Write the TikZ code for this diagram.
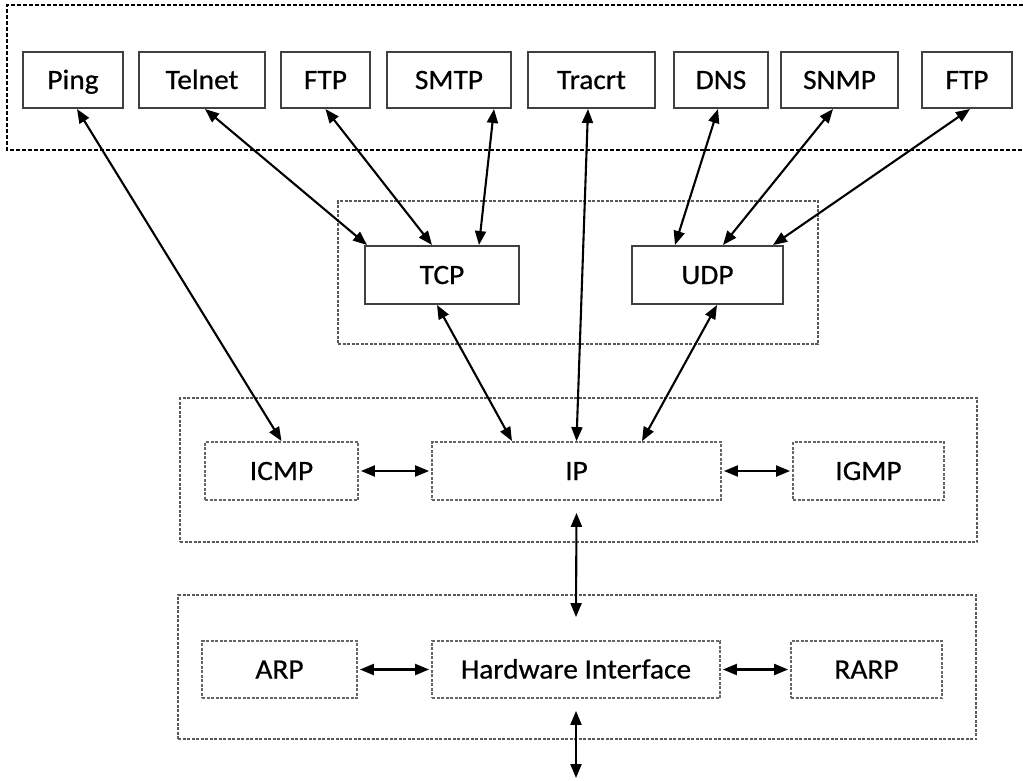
\documentclass[tikz,border=0pt]{standalone}
\usepackage{fontspec}
\setmainfont[FakeBold=0.6,FakeStretch=1.05]{Carlito}
\usetikzlibrary{arrows.meta}
\begin{document}
\begin{tikzpicture}[x=1pt,y=-1pt,
  lbl/.style={font=\fontsize{28}{32}\selectfont, text=black, text height=18pt, text depth=0pt},
  solidbox/.style={lbl, draw=black!75, line width=2pt, fill=white, inner sep=0pt, minimum height=56pt},
  dbox/.style={lbl, draw=black!60, dash pattern=on 3pt off 1.5pt, line width=1.8pt, inner sep=0pt, minimum height=58pt},
  groupbox/.style={draw=black!65, dash pattern=on 3pt off 1.5pt, line width=1.6pt, inner sep=0pt},
  topgroup/.style={draw=black, dash pattern=on 4pt off 2pt, line width=1.4pt},
  arr/.style={{Triangle[length=14pt,width=11pt]}-{Triangle[length=14pt,width=11pt]}, line width=2.1pt, black}
]
\useasboundingbox (0,0) rectangle (1023,780);

% group frames
\draw[topgroup] (1023,5) -- (7,5) -- (7,150) -- (1023,150);
\node[groupbox, minimum width=480pt, minimum height=143pt] (transport) at (578,272.5) {};
\node[groupbox, minimum width=797pt, minimum height=144pt] (iplayer) at (578.5,470) {};
\node[groupbox, minimum width=798pt, minimum height=144pt] (linklayer) at (577,667) {};

% application boxes
\node[solidbox, minimum width=100pt] (ping) at (73,80) {Ping};
\node[solidbox, minimum width=126pt] (telnet) at (202,80) {Telnet};
\node[solidbox, minimum width=89pt] (ftp) at (325.5,80) {FTP};
\node[solidbox, minimum width=124pt] (smtp) at (449,80) {SMTP};
\node[solidbox, minimum width=127pt] (tracrt) at (591.5,80) {Tracrt};
\node[solidbox, minimum width=94pt] (dns) at (721,80) {DNS};
\node[solidbox, minimum width=117pt] (snmp) at (839.5,80) {SNMP};
\node[solidbox, minimum width=90pt] (ftpb) at (967,80) {FTP};

% transport
\node[solidbox, minimum width=154pt, minimum height=58pt] (tcp) at (442,275) {TCP};
\node[solidbox, minimum width=151pt, minimum height=58pt] (udp) at (707.5,275) {UDP};

% network layer
\node[dbox, minimum width=153pt] (icmp) at (281.5,471) {ICMP};
\node[dbox, minimum width=289pt] (ip) at (576.5,471) {IP};
\node[dbox, minimum width=151pt] (igmp) at (868.5,471) {IGMP};

% link layer
\node[dbox, minimum width=155pt, minimum height=57pt] (arp) at (279.5,669.5) {ARP};
\node[dbox, minimum width=288pt, minimum height=57pt] (hw) at (576,669.5) {Hardware Interface};
\node[dbox, minimum width=151pt, minimum height=57pt] (rarp) at (866.5,669.5) {RARP};

\coordinate (wire) at (576,778);

% connectors
\draw[arr] ([xshift=4pt]ping.south) -- (icmp.north);
\draw[arr] ([xshift=3pt]telnet.south) -- ([xshift=3pt]tcp.north west);
\draw[arr] (ftp.south) -- ([xshift=-10pt]tcp.north);
\draw[arr] ([xshift=-18pt]smtp.south east) -- ([xshift=37pt]tcp.north);
\draw[arr] ([xshift=-3.5pt]tracrt.south) -- (ip.north);
\draw[arr] ([xshift=-3pt]dns.south) -- ([xshift=-32.5pt]udp.north);
\draw[arr] ([xshift=-6.5pt]snmp.south) -- ([xshift=15.5pt]udp.north);
\draw[arr] ([xshift=3pt]ftpb.south) -- ([xshift=-11pt]udp.north east);
\draw[arr] ([xshift=-5pt]tcp.south) -- ([xshift=-64.5pt]ip.north);
\draw[arr] ([xshift=9.5pt]udp.south) -- ([xshift=65.5pt]ip.north);
\draw[arr] ([xshift=2pt]icmp.east) -- ([xshift=-2pt]ip.west);
\draw[arr] ([xshift=2pt]ip.east) -- ([xshift=-2pt]igmp.west);
\draw[arr] ([xshift=2pt]arp.east) -- ([xshift=-2pt]hw.west);
\draw[arr] ([xshift=2pt]hw.east) -- ([xshift=-2pt]rarp.west);
\draw[arr] ([yshift=-12pt]ip.south) -- ([yshift=23pt]hw.north);
\draw[arr] ([yshift=-12pt]hw.south) -- (wire);
\end{tikzpicture}
\end{document}
